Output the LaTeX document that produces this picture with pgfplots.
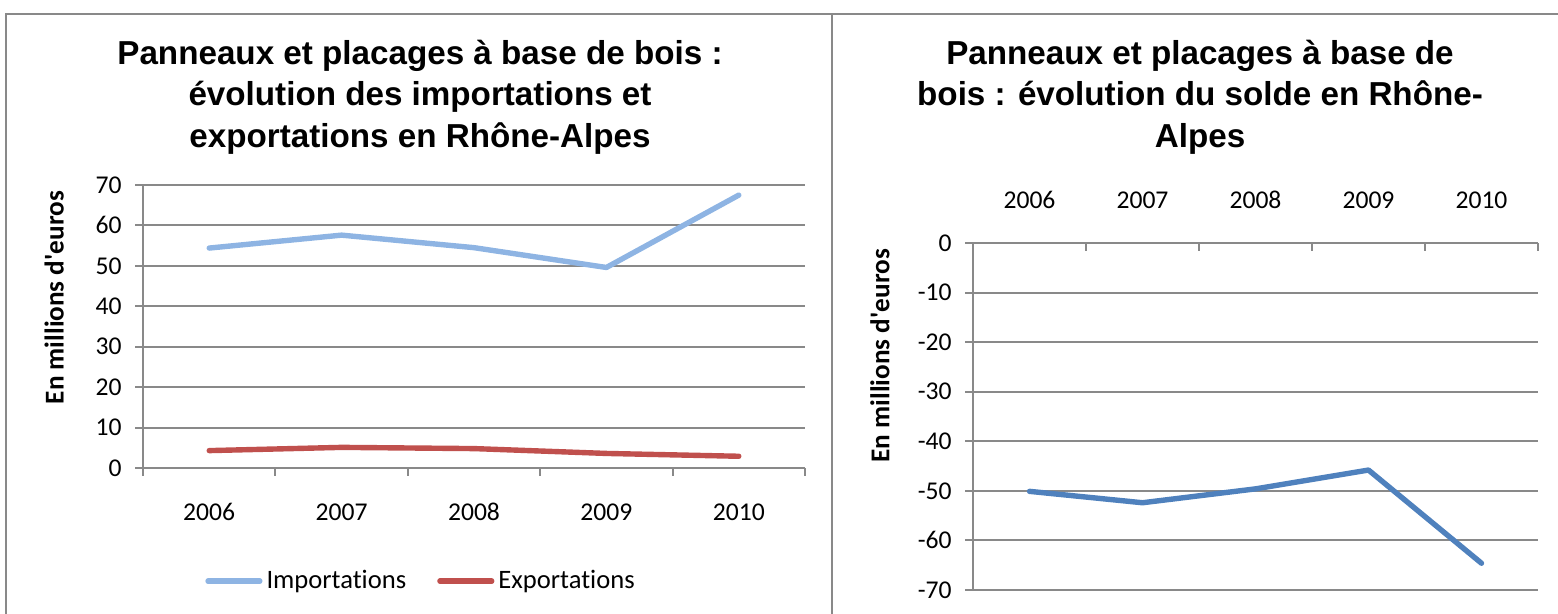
\documentclass[border=0pt]{standalone}
\usepackage{pgfplots}
\pgfplotsset{compat=1.18}
\usepackage{fontspec}
\setmainfont{Carlito}[Ligatures=NoCommon]
\newfontfamily\titlefont{Liberation Sans}

\definecolor{gridgray}{RGB}{137,137,137}
\definecolor{impblue}{RGB}{142,180,227}
\definecolor{expred}{RGB}{192,80,77}
\definecolor{soldeblue}{RGB}{79,129,189}

% common look of both charts (office style)
\pgfplotsset{
  officechart/.style={
    scale only axis,
    anchor=south west,
    xmin=-0.5, xmax=4.5,
    xtick={0,...,4},
    xticklabels={2006,2007,2008,2009,2010},
    minor xtick={-0.5,0.5,...,4.5},
    major x tick style={draw=none},
    ymajorgrids,
    major grid style={gridgray, line width=1pt},
    axis line style={gridgray, line width=1pt},
    tick style={gridgray, line width=1pt},
    tick align=outside,
    major tick length=4pt,
    minor tick length=4pt,
    ticklabel style={font=\fontsize{12.8}{15}\selectfont, inner sep=0pt},
    yticklabel style={anchor=east, xshift=-6.5pt},
    /pgf/number format/assume math mode=true,
    ylabel={En millions d\textquotesingle euros},
    ylabel style={font=\bfseries\fontsize{13.6}{16}\selectfont, anchor=center},
    every axis plot/.append style={line width=2.7pt, line cap=round, line join=round},
    clip=false,
  },
}

\begin{document}
\begin{tikzpicture}
\path[use as bounding box] (0,0) rectangle (779pt,307pt);
\begin{scope}
  \clip (0,0) rectangle (779pt,307pt);
  \draw[gridgray, line width=1pt] (3pt,-10pt) rectangle (416pt,300pt);
  \draw[gridgray, line width=1pt] (416pt,-10pt) rectangle (790pt,300pt);
\end{scope}

\node[align=center, font=\titlefont\bfseries\fontsize{16.6}{20.75}\selectfont]
  at (210pt,258.6pt) {Panneaux et placages à base de bois :\\évolution des importations et\\exportations en Rhône-Alpes};
\node[align=center, font=\titlefont\bfseries\fontsize{16.6}{20.75}\selectfont]
  at (600pt,258.6pt) {Panneaux et placages à base de\\bois : évolution du solde en Rhône-\\Alpes};

% left chart: imports and exports
\begin{axis}[officechart,
  at={(71.5pt,73pt)}, width=331pt, height=141.5pt,
  axis x line*=bottom, axis y line*=left,
  ymin=0, ymax=70, ytick={0,10,...,70},
  xticklabel style={anchor=center, yshift=-18pt},
  ylabel style={at={(axis description cs:-0.134,0.602)}},
  legend style={at={(axis description cs:0.4215,-0.40)}, anchor=center,
    draw=none, fill=none, legend columns=2,
    font=\fontsize{13.3}{15}\selectfont,
    /tikz/every even column/.append style={column sep=13.5pt}},
  legend image code/.code={\draw[#1] (1.3pt,0pt) -- (27.2pt,0pt);},
]
\addplot[impblue] coordinates {(0,54.4) (1,57.6) (2,54.5) (3,49.6) (4,67.5)};
\addlegendentry{Importations}
\addplot[expred] coordinates {(0,4.3) (1,5.1) (2,4.8) (3,3.6) (4,2.9)};
\addlegendentry{Exportations}
\end{axis}

% right chart: balance
\begin{axis}[officechart,
  at={(486.5pt,12pt)}, width=282.5pt, height=173.5pt,
  axis x line*=top, axis y line*=left,
  ymin=-70, ymax=0, ytick={-70,-60,...,0},
  minor x tick style={yshift=-4pt},
  xticklabel style={anchor=center, yshift=17.5pt},
  ylabel style={at={(axis description cs:-0.1646,0.675)}},
]
\addplot[soldeblue] coordinates {(0,-50.1) (1,-52.4) (2,-49.6) (3,-45.8) (4,-64.6)};
\end{axis}
\end{tikzpicture}
\end{document}
